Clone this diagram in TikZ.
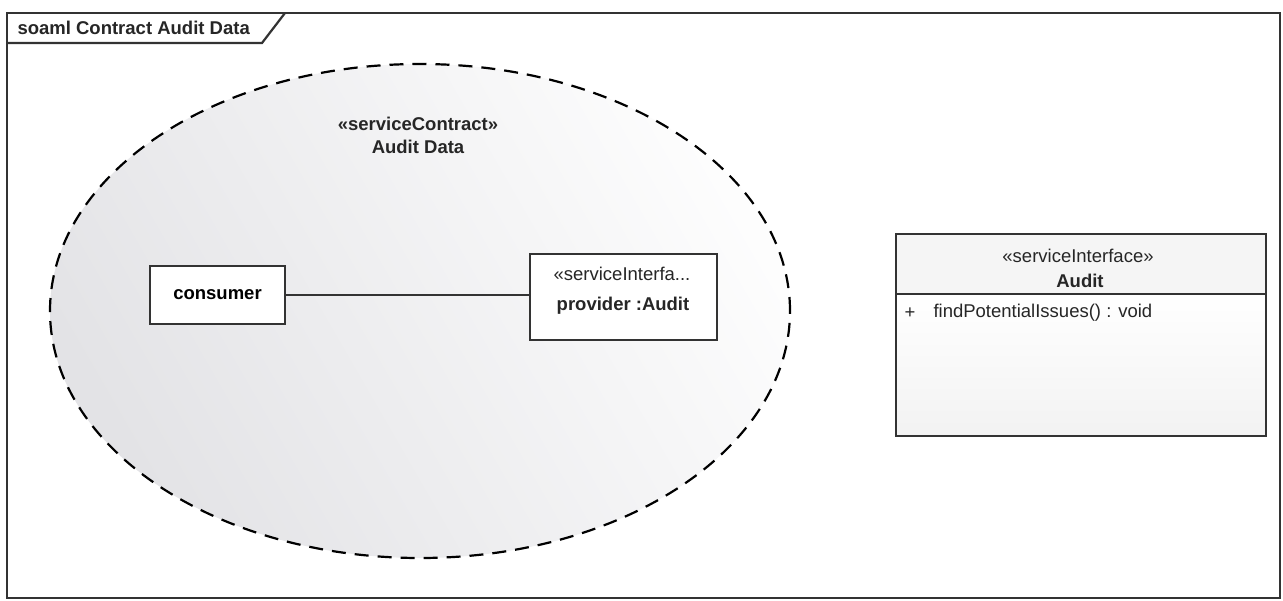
\documentclass[tikz,border=0pt]{standalone}
\usepackage{fontspec}
\setmainfont{Liberation Sans}
\usetikzlibrary{shapes.geometric}
\definecolor{linegray}{HTML}{333333}
\definecolor{fillgray}{HTML}{E3E3E6}
\tikzset{
  frameline/.style={draw=linegray, line width=2.2pt},
  part/.style={draw=linegray, line width=2pt, fill=white, align=center,
    font=\fontsize{18.5}{22}\selectfont\bfseries},
  contract/.style={ellipse, draw=black, line width=2.2pt,
    dash pattern=on 14pt off 9pt, left color=fillgray, right color=white!92!fillgray,
    shading angle=120},
  classbox/.style={draw=linegray, line width=2pt},
  txt/.style={font=\fontsize{18.5}{22}\selectfont, text=black!85},
  btxt/.style={font=\fontsize{18.5}{22}\selectfont\bfseries, text=black!85},
}
\begin{document}
\begin{tikzpicture}[x=1pt, y=-1pt]
  \useasboundingbox (0,0) rectangle (1283,601);
  \fill[white] (0,0) rectangle (1283,601);

  % diagram frame with its name tab
  \draw[frameline] (7,13) rectangle (1280,598);
  \draw[frameline] (7,43) -- (262,43) -- (285,13);
  \node[btxt, anchor=west] (title) at (14,28) {soaml Contract Audit Data};

  % service contract collaboration
  \node[contract, minimum width=740, minimum height=494] (contract) at (420,311) {};
  \node[btxt, align=center] (contractlabel) at (418,135)
    {«serviceContract»\\[1pt]Audit Data};

  % roles
  \node[part, minimum width=135, minimum height=58] (consumer) at (217.5,295) {consumer};
  \node[part, minimum width=187, minimum height=86] (provider) at (623.5,297) {};
  \node[txt] (providerstereo) at (622,274) {«serviceInterfa...};
  \node[btxt] (providername) at (623,306) {provider :Audit};
  \draw[draw=linegray, line width=2pt] (consumer.east) -- (consumer.east -| provider.west);

  % service interface class
  \node[classbox, fill=gray!8, minimum width=370, minimum height=60, anchor=north west]
    (audithead) at (895,233) {};
  \node[classbox, top color=white, bottom color=gray!10, minimum width=370,
    minimum height=142, anchor=north west] (auditbody) at (895,293) {};
  \node[txt] (auditstereo) at (1078,256) {«serviceInterface»};
  \node[btxt] (auditname) at (1080,281) {Audit};
  \node[txt, anchor=west] (opvis) at (901,313) {+};
  \node[txt, anchor=west] (op) at (930,313) {findPotentialIssues() : void};
\end{tikzpicture}
\end{document}
